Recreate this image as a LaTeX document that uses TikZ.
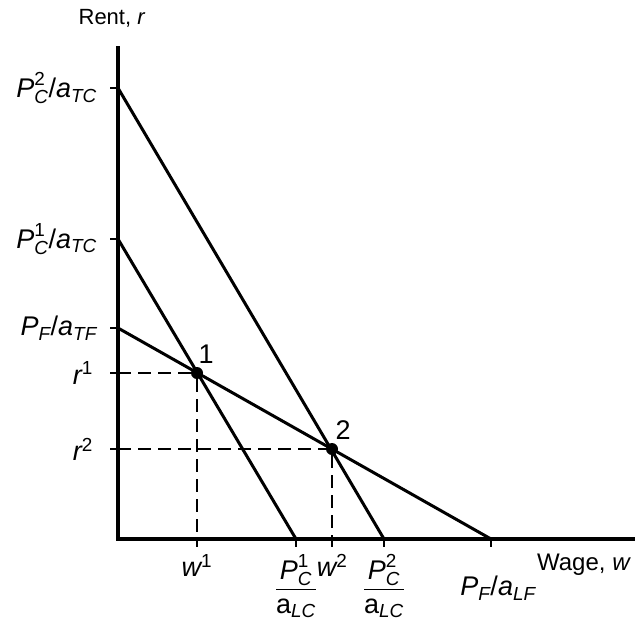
\documentclass[tikz,border=0pt]{standalone}
\usepackage{amsmath}
\usepackage{fontspec}
\setmainfont{Liberation Sans}
\usetikzlibrary{positioning}
\newcommand{\itx}[1]{\text{\itshape #1}}

\begin{document}
\begin{tikzpicture}[
  x=1pt, y=-1pt,
  axis/.style={line width=3.6pt},
  schedule/.style={line width=3pt},
  guide/.style={line width=1.7pt, dash pattern=on 13pt off 7pt},
  tickmark/.style={line width=1.8pt},
  eqpt/.style={circle, fill=black, minimum size=12pt, inner sep=0pt},
  lab/.style={font=\fontsize{27}{29}\selectfont, inner sep=1pt},
  axlab/.style={font=\fontsize{22}{24}\selectfont, inner sep=1pt},
]
  \useasboundingbox (0,0) rectangle (636,629);

  % Axes
  \coordinate (O) at (118,539);
  \coordinate (ytop) at (118,46);
  \coordinate (xend) at (635,539);
  \draw[axis] (ytop) -- (O) -- (xend);
  \node[axlab] (ylab) at (112,18) {Rent, \textit{r}};
  \node[axlab, font=\fontsize{24}{26}\selectfont] (xlab) at (584,565) {Wage, \textit{w}};

  % Intercepts
  \coordinate (c2top) at (118,88);
  \coordinate (c2bot) at (384,539);
  \coordinate (c1top) at (118,239);
  \coordinate (c1bot) at (296,539);
  \coordinate (ftop) at (118,328);
  \coordinate (fbot) at (491,539);

  % Equilibria
  \node[eqpt] (e1) at (197,373) {};
  \node[eqpt] (e2) at (332,449) {};
  \coordinate (r1) at (118,373);
  \coordinate (r2) at (118,449);
  \coordinate (w1) at (197,539);
  \coordinate (w2) at (332,539);

  % Schedules
  \draw[schedule] (c2top) -- (c2bot);
  \draw[schedule] (c1top) -- (c1bot);
  \draw[schedule] (ftop) -- (fbot);

  % Dashed guides
  \draw[guide] (r1) -- (e1) -- (w1);
  \draw[guide] (r2) -- (e2) -- (w2);

  % Ticks
  \foreach \c in {c2top,c1top,ftop,r1,r2}
    \draw[tickmark] (\c) -- ++(-8,0);
  \foreach \c in {w1,c1bot,w2,c2bot,fbot}
    \draw[tickmark] (\c) -- ++(0,8);

  % Vertical labels
  \node[lab, left=20pt of c2top] {$\itx{P}_{\itx{C}}^{\text{2}}\text{/}\itx{a}_{\itx{TC}}$};
  \node[lab, left=20pt of c1top] {$\itx{P}_{\itx{C}}^{\text{1}}\text{/}\itx{a}_{\itx{TC}}$};
  \node[lab, left=20pt of ftop] {$\itx{P}_{\itx{F}}\text{/}\itx{a}_{\itx{TF}}$};
  \node[lab, left=24pt of r1] {$\itx{r}^{\text{1}}$};
  \node[lab, left=24pt of r2] {$\itx{r}^{\text{2}}$};

  % Horizontal labels
  \node[lab, below=14pt of w1] {$\itx{w}^{\text{1}}$};
  \node[lab, below=14pt of w2] {$\itx{w}^{\text{2}}$};
  \node[lab, below=14pt of c1bot] {$\dfrac{\itx{P}_{\itx{C}}^{\text{1}}}{\text{a}_{\itx{LC}}}$};
  \node[lab, below=14pt of c2bot] {$\dfrac{\itx{P}_{\itx{C}}^{\text{2}}}{\text{a}_{\itx{LC}}}$};
  \node[lab, below=36pt of fbot, xshift=7pt] {$\itx{P}_{\itx{F}}\text{/}\itx{a}_{\itx{LF}}$};

  % Point labels
  \node[lab, above right=4pt and -4pt of e1] {1};
  \node[lab, above right=4pt and -2pt of e2] {2};
\end{tikzpicture}
\end{document}
